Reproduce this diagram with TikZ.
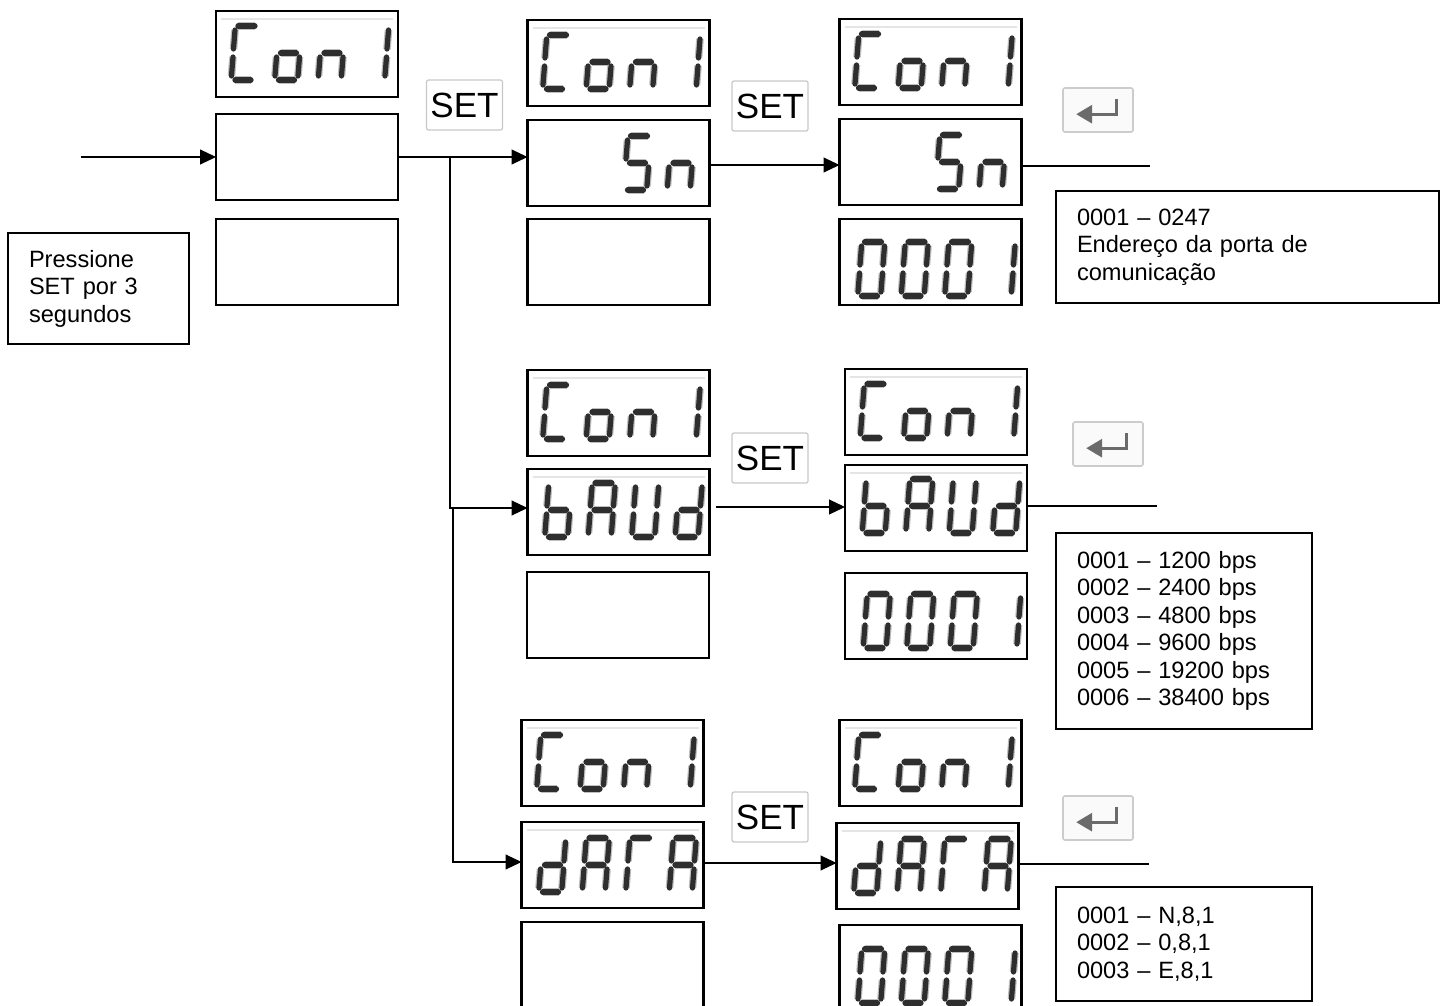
\documentclass[tikz,border=0pt]{standalone}
\usepackage{fontspec}
\setmainfont{Liberation Sans}
\usetikzlibrary{positioning,arrows.meta}

% segments of each glyph on the display
\def\lcdsegsC{a,f,e,d}
\def\lcdsegso{e,d,c,g}
\def\lcdsegsn{e,c,g}
\expandafter\def\csname lcdsegs1\endcsname{b,c}
\expandafter\def\csname lcdsegs0\endcsname{a,b,c,d,e,f}
\def\lcdsegsS{a,f,g,c,d}
\def\lcdsegsb{f,e,g,c,d}
\def\lcdsegsA{a,b,c,e,f,g}
\def\lcdsegsU{b,c,d,e,f}
\def\lcdsegsd{b,c,d,e,g}
\def\lcdsegst{a,f,e}
\def\lcdpatha{(7,0) -- (24,0)}
\def\lcdpathb{(27,4) -- (25.5,23)}
\def\lcdpathc{(25,31) -- (23.5,50)}
\def\lcdpathd{(4,54) -- (20,54)}
\def\lcdpathe{(2,31) -- (0.5,50)}
\def\lcdpathf{(4,4) -- (2.5,23)}
\def\lcdpathg{(6,27) -- (22,27)}
% display node, characters, left offset, top offset
\newcommand{\lcd}[4]{%
  \foreach \ch [count=\slot from 0] in {#2} {
    \begin{scope}[shift={(#1.north west)}, shift={(#3+\slot*43.5,#4)}]
      \edef\seglist{\csname lcdsegs\ch\endcsname}
      \foreach \seg in \seglist {
        \expandafter\let\expandafter\segpath\csname lcdpath\seg\endcsname
        \draw[lcdseg] \segpath;
      }
    \end{scope}
  }
}

\tikzset{
  lcdbox/.style={rectangle, draw, line width=1.1pt, fill=white, minimum width=91pt, minimum height=43pt, inner sep=0pt, outer sep=0pt},
  lcdseg/.style={line width=2.6pt, line cap=round, black!82, preaction={draw, black!25, line width=3.8pt}},
  lcdglare/.style={black!10, line width=0.6pt},
  setbtn/.style={rectangle, draw=black!22, line width=0.6pt, rounded corners=1pt, minimum width=38pt, minimum height=25pt, inner sep=0pt, font=\fontsize{17.5}{20}\selectfont},
  enterkey/.style={rectangle, draw=black!20, fill=black!2, line width=0.8pt, rounded corners=1pt, minimum width=35pt, minimum height=22pt, inner sep=0pt},
  enterarrow/.style={black!58, line width=1.6pt, -{Triangle[length=8pt,width=9pt]}},
  infobox/.style={rectangle, draw, line width=0.8pt, inner sep=0pt, outer sep=0pt, align=left, font=\fontsize{11.8}{13.75}\selectfont},
  flow/.style={line width=0.55pt, -{Triangle[length=8pt,width=7.5pt]}},
  wire/.style={line width=0.55pt}
}

\begin{document}
\begin{tikzpicture}[x=0.5pt, y=-0.5pt]
\useasboundingbox (0,0) rectangle (1448,1006);

\node[lcdbox] (dispA1) at (307,54) {};
\node[lcdbox] (dispA2) at (307,157) {};
\node[lcdbox] (dispA3) at (307,262) {};
\node[lcdbox] (dispB1) at (618.5,63) {};
\node[lcdbox] (dispB2) at (618.5,163) {};
\node[lcdbox] (dispB3) at (618.5,262) {};
\node[lcdbox] (dispC1) at (930.5,62) {};
\node[lcdbox] (dispC2) at (930.5,162) {};
\node[lcdbox] (dispC3) at (930.5,262) {};
\node[lcdbox] (dispD1) at (618.5,413) {};
\node[lcdbox] (dispD2) at (618.5,512) {};
\node[lcdbox] (dispD3) at (618,615) {};
\node[lcdbox] (dispE1) at (936,412) {};
\node[lcdbox] (dispE2) at (936,508) {};
\node[lcdbox] (dispE3) at (936,616) {};
\node[lcdbox] (dispF1) at (612.5,763) {};
\node[lcdbox] (dispF2) at (612.5,865) {};
\node[lcdbox] (dispF3) at (612.5,965) {};
\node[lcdbox] (dispG1) at (930.5,763) {};
\node[lcdbox] (dispG2) at (927.5,866) {};
\node[lcdbox] (dispG3) at (930.5,968) {};

\foreach \b in {dispA1,dispB1,dispC1,dispD1,dispD2,dispE1,dispE2,dispF1,dispF2,dispG1,dispG2}
  \draw[lcdglare] ([shift={(5,8)}]\b.north west) -- ([shift={(-5,8)}]\b.north east);

\lcd{dispA1}{C,o,n,1}{15}{15}
\lcd{dispB1}{C,o,n,1}{15}{15}
\lcd{dispB2}{S,n}{96}{16}
\lcd{dispC1}{C,o,n,1}{15}{15}
\lcd{dispC2}{S,n}{96}{16}
\lcd{dispC3}{0,0,0,1}{18}{23}
\lcd{dispD1}{C,o,n,1}{15}{15}
\lcd{dispD2}{b,A,U,d}{17}{14}
\lcd{dispE1}{C,o,n,1}{15}{15}
\lcd{dispE2}{b,A,U,d}{17}{14}
\lcd{dispE3}{0,0,0,1}{18}{21}
\lcd{dispF1}{C,o,n,1}{15}{15}
\lcd{dispF2}{d,A,t,A}{17}{16}
\lcd{dispG1}{C,o,n,1}{15}{15}
\lcd{dispG2}{d,A,t,A}{17}{16}
\lcd{dispG3}{0,0,0,1}{18}{24}

\node[setbtn] (setA) at (464.5,105) {SET};
\node[setbtn] (setB) at (770,106) {SET};
\node[setbtn] (setD) at (770,458) {SET};
\node[setbtn] (setF) at (770,817) {SET};

\node[enterkey] (keyC) at (1098,110) {};
\node[enterkey] (keyE) at (1108,444) {};
\node[enterkey] (keyG) at (1098,818) {};
\foreach \k in {keyC,keyE,keyG}
  \draw[enterarrow] ([shift={(54,12)}]\k.north west) |- ([shift={(14,27)}]\k.north west);

\node[infobox, minimum width=90.5pt, minimum height=55.5pt, text width=69.5pt] (notePress) at (98.5,288.5) {Pressione\\SET por 3\\segundos};
\node[infobox, minimum width=191.5pt, minimum height=56pt, text width=170.5pt] (noteAddr) at (1247.5,247) {0001 – 0247\\Endereço da porta de\\comunicação};
\node[infobox, minimum width=128pt, minimum height=98pt, text width=107pt] (noteBaud) at (1184,631) {0001 – 1200 bps\\0002 – 2400 bps\\0003 – 4800 bps\\0004 – 9600 bps\\0005 – 19200 bps\\0006 – 38400 bps};
\node[infobox, minimum width=128pt, minimum height=57pt, text width=107pt] (noteData) at (1184,944) {0001 – N,8,1\\0002 – 0,8,1\\0003 – E,8,1};

\coordinate (entry) at (81,157);
\coordinate (branch) at (450,157);
\coordinate (branchD) at (450,508);
\coordinate (branchE) at (453,508);
\coordinate (branchF) at (453,862);
\coordinate (startC) at (710,165);
\coordinate (startD) at (716,507);
\coordinate (startF) at (704,863);
\coordinate (endC) at (1150,166);
\coordinate (endE) at (1157,506);
\coordinate (endG) at (1149,864);

\draw[flow] (entry) -- (dispA2.west);
\draw[flow] (dispA2.east) -- (dispB2.west |- dispA2.east);
\draw[flow] (branch) -- (branchD) -- (dispD2.west |- branchD);
\draw[flow] (branchE) -- (branchF) -- (dispF2.west |- branchF);
\draw[flow] (startC) -- (dispC2.west |- startC);
\draw[flow] (startD) -- (dispE2.west |- startD);
\draw[flow] (startF) -- (dispG2.west |- startF);
\draw[wire] (dispC2.east |- endC) -- (endC);
\draw[wire] (dispE2.east |- endE) -- (endE);
\draw[wire] (dispG2.east |- endG) -- (endG);
\end{tikzpicture}
\end{document}
